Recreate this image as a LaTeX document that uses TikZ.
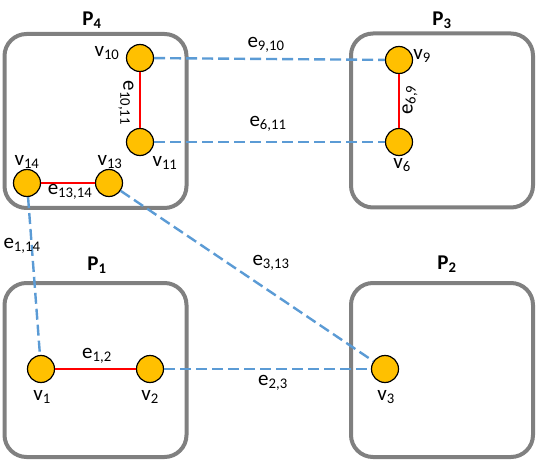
\documentclass[tikz,border=0pt]{standalone}
\usepackage{fontspec}
\setmainfont{Carlito}
\usepackage{tikz}
\usetikzlibrary{shapes,positioning}
\usepackage{xcolor}
\definecolor{partgray}{RGB}{128,128,128}
\definecolor{vertexfill}{RGB}{255,192,0}
\definecolor{cutblue}{RGB}{91,155,213}

\begin{document}
\begin{tikzpicture}[x=1pt,y=-1pt,
    font=\fontsize{21}{24}\selectfont,
    part/.style={draw=partgray, line width=4pt, rectangle, rounded corners=22pt, minimum width=182pt, minimum height=174pt},
    vertex/.style={draw, circle, line width=1.2pt, fill=vertexfill, minimum size=27pt, inner sep=0pt},
    inner/.style={red, line width=2pt},
    cut/.style={cutblue, line width=2.4pt, dash pattern=on 11pt off 5pt}]
    \useasboundingbox (0,0) rectangle (540,462);

    % partitions
    \node[part] (box4) at (95.5,121) {};
    \node[part] (box3) at (442,120.5) {};
    \node[part] (box1) at (95.5,370) {};
    \node[part] (box2) at (442,370) {};
    \node (title4) at (92,20) {\textbf{P\textsubscript{4}}};
    \node (title3) at (442,20) {\textbf{P\textsubscript{3}}};
    \node (title1) at (97,265) {\textbf{P\textsubscript{1}}};
    \node (title2) at (447,264) {\textbf{P\textsubscript{2}}};

    % vertices
    \node[vertex] (v10) at (140,58) {};
    \node[vertex] (v11) at (140,142) {};
    \node[vertex] (v14) at (27,183) {};
    \node[vertex] (v13) at (109,183) {};
    \node[vertex] (v9) at (399,60) {};
    \node[vertex] (v6) at (399,142) {};
    \node[vertex] (v1) at (41,369) {};
    \node[vertex] (v2) at (150,369) {};
    \node[vertex] (v3) at (385,369) {};

    \node (l10) at (107,53) {v\textsubscript{10}};
    \node (l11) at (165,163) {v\textsubscript{11}};
    \node (l14) at (27,162) {v\textsubscript{14}};
    \node (l13) at (110,162) {v\textsubscript{13}};
    \node (l9) at (422,56) {v\textsubscript{9}};
    \node (l6) at (402,165) {v\textsubscript{6}};
    \node (l1) at (42,397) {v\textsubscript{1}};
    \node (l2) at (150,397) {v\textsubscript{2}};
    \node (l3) at (386,397) {v\textsubscript{3}};

    % edges inside a partition
    \draw[inner] (v10) -- (v11);
    \draw[inner] (v14) -- (v13);
    \draw[inner] (v9) -- (v6);
    \draw[inner] (v1) -- (v2);

    % cut edges
    \draw[cut] (v10) -- (v9);
    \draw[cut] (v11) -- (v6);
    \draw[cut] (v14) -- (v1);
    \draw[cut] (v13) -- (v3);
    \draw[cut] (v2) -- (v3);

    \node (e1011) at (126,103) [rotate=-90] {e\textsubscript{10,11}};
    \node (e69) at (410,100) [rotate=90] {e\textsubscript{6,9}};
    \node (e1314) at (70,192) {e\textsubscript{13,14}};
    \node (e910) at (266,45) {e\textsubscript{9,10}};
    \node (e611) at (268,124) {e\textsubscript{6,11}};
    \node (e114) at (22,246) {e\textsubscript{1,14}};
    \node (e313) at (271,263) {e\textsubscript{3,13}};
    \node (e12) at (97,356) {e\textsubscript{1,2}};
    \node (e23) at (273,383) {e\textsubscript{2,3}};
\end{tikzpicture}
\end{document}
